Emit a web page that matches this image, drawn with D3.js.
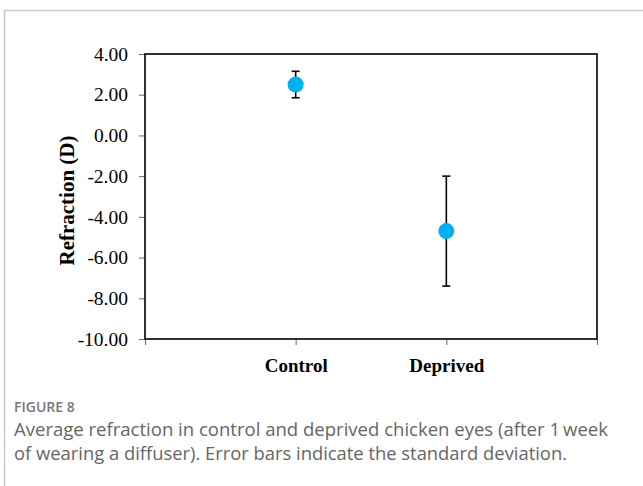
<!DOCTYPE html>
<html>
<head>
<meta charset="utf-8">
<script src="https://cdn.jsdelivr.net/npm/d3@7"></script>
<style>
  body { margin: 0; background: #fff; }
  svg { display: block; }
</style>
</head>
<body>
<svg id="chart" width="643" height="486"></svg>
<script>
// data
const categories = ["", "Control", "Deprived", ""];
const groups = ["Control", "Deprived"];
const means = [2.5, -4.7];
const sds = [0.65, 2.7];
const yTicks = [4, 2, 0, -2, -4, -6, -8, -10];

const svg = d3.select("#chart");

// card frame
svg.append("path")
    .attr("d", "M4.5,486 V10.5 H643")
    .attr("fill", "none")
    .attr("stroke", "#c8c8c8")
    .attr("stroke-width", 1.5);

const margin = { left: 145, top: 54, right: 597, bottom: 339 };

const x = d3.scalePoint()
    .domain(d3.range(categories.length))
    .range([margin.left, margin.right]);

const y = d3.scaleLinear()
    .domain([-10, 4])
    .range([margin.bottom, margin.top]);

// plain hyphen minus like the original
const fmt = d => (d < 0 ? "-" : "") + Math.abs(d).toFixed(2);

// y axis
const yAxis = svg.append("g")
    .attr("transform", `translate(${margin.left},0)`)
    .call(d3.axisLeft(y).tickValues(yTicks).tickFormat(fmt).tickSize(6).tickPadding(11));
yAxis.select(".domain").remove();
yAxis.selectAll("text")
    .attr("font-family", "Liberation Serif")
    .attr("font-size", 19.5)
    .attr("fill", "#000");
yAxis.selectAll("line").attr("stroke", "#666");

// x axis
const xAxis = svg.append("g")
    .attr("transform", `translate(0,${margin.bottom})`)
    .call(d3.axisBottom(x).tickFormat(i => categories[i]).tickSize(6).tickPadding(14));
xAxis.select(".domain").remove();
xAxis.selectAll("text")
    .attr("font-family", "Liberation Serif")
    .attr("font-size", 19)
    .attr("font-weight", "bold")
    .attr("fill", "#000");
xAxis.selectAll("line").attr("stroke", "#666");

// plot frame
svg.append("rect")
    .attr("x", margin.left)
    .attr("y", margin.top)
    .attr("width", margin.right - margin.left)
    .attr("height", margin.bottom - margin.top)
    .attr("fill", "none")
    .attr("stroke", "#000")
    .attr("stroke-width", 1.6);

// y title
svg.append("text")
    .attr("transform", `translate(74,${(margin.top + margin.bottom) / 2 + 4}) rotate(-90)`)
    .attr("text-anchor", "middle")
    .attr("font-family", "Liberation Serif")
    .attr("font-size", 21)
    .attr("font-weight", "bold")
    .text("Refraction (D)");

// error bars
const pts = groups.map((g, i) => ({ g, m: means[i], sd: sds[i], xi: categories.indexOf(g) }));
const eb = svg.append("g").attr("stroke", "#000").attr("stroke-width", 1.6);
pts.forEach(d => {
    const cx = x(d.xi);
    eb.append("line").attr("x1", cx).attr("x2", cx).attr("y1", y(d.m + d.sd)).attr("y2", y(d.m - d.sd));
    eb.append("line").attr("x1", cx - 4).attr("x2", cx + 4).attr("y1", y(d.m + d.sd)).attr("y2", y(d.m + d.sd));
    eb.append("line").attr("x1", cx - 4).attr("x2", cx + 4).attr("y1", y(d.m - d.sd)).attr("y2", y(d.m - d.sd));
});

// points
svg.selectAll("circle.pt")
    .data(pts)
    .enter().append("circle")
    .attr("class", "pt")
    .attr("cx", d => x(d.xi))
    .attr("cy", d => y(d.m))
    .attr("r", 8)
    .attr("fill", "#00b0f0");

// caption
svg.append("text")
    .attr("x", 14).attr("y", 412)
    .attr("font-family", "Open Sans")
    .attr("font-size", 14)
    .attr("font-weight", 600)
    .attr("fill", "#777")
    .text("FIGURE 8");
const cap = svg.append("text")
    .attr("font-family", "Open Sans")
    .attr("font-size", 19)
    .attr("fill", "#666");
cap.append("tspan").attr("x", 14).attr("y", 436)
    .attr("textLength", 594).attr("lengthAdjust", "spacingAndGlyphs")
    .text("Average refraction in control and deprived chicken eyes (after 1\u2009week");
cap.append("tspan").attr("x", 14).attr("y", 460)
    .attr("textLength", 553).attr("lengthAdjust", "spacingAndGlyphs")
    .text("of wearing a diffuser). Error bars indicate the standard deviation.");
</script>
</body>
</html>
